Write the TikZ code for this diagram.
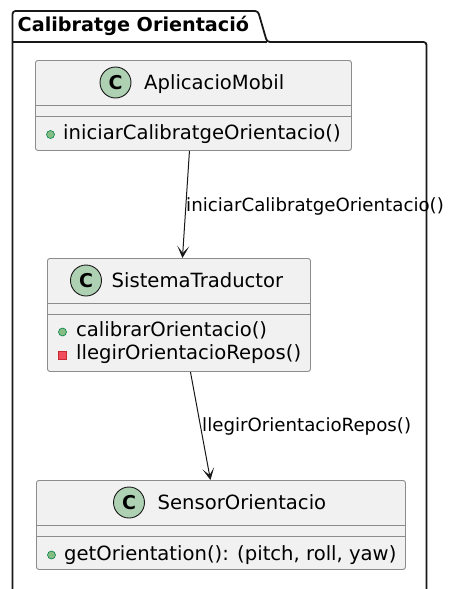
\documentclass[tikz,border=0pt]{standalone}
\usepackage{fontspec}
\setmainfont{DejaVu Sans}
\usetikzlibrary{arrows.meta,calc}

\definecolor{boxfill}{HTML}{F1F1F1}
\definecolor{boxline}{HTML}{8C8C8C}
\definecolor{spotfill}{HTML}{ADD1B2}
\definecolor{inkline}{HTML}{181818}
\definecolor{pubfill}{HTML}{84BE84}
\definecolor{publine}{HTML}{038048}
\definecolor{privfill}{HTML}{F24D5C}
\definecolor{privline}{HTML}{C82930}

\tikzset{
  classbox/.style={draw=boxline, fill=boxfill, line width=0.9pt, rounded corners=2.5pt,
                   anchor=north west, inner sep=0pt},
  divider/.style={draw=boxline, line width=0.9pt},
  spot/.style={circle, draw=inkline, fill=spotfill, line width=0.9pt, minimum size=31pt,
               inner sep=0pt, font=\fontsize{19}{20}\selectfont\bfseries},
  clsname/.style={anchor=base west, inner sep=0pt, font=\fontsize{19.6}{22}\selectfont, text=black},
  member/.style={anchor=base west, inner sep=0pt, font=\fontsize{19.6}{22}\selectfont, text=black},
  pubmark/.style={circle, draw=publine, fill=pubfill, line width=0.6pt, minimum size=8pt, inner sep=0pt},
  privmark/.style={rectangle, draw=privline, fill=privfill, line width=0.6pt, minimum size=8pt, inner sep=0pt},
  edgelabel/.style={anchor=base west, inner sep=0pt, font=\fontsize{18.2}{20}\selectfont, text=black},
  dep/.style={draw=inkline, line width=1pt, -{Stealth[length=12pt,width=12pt,inset=7pt]}},
  pkgline/.style={draw=inkline, line width=1.8pt, rounded corners=3pt},
  pkgtitle/.style={anchor=base west, inner sep=0pt, font=\fontsize{19.2}{22}\selectfont\bfseries, text=black}
}

\begin{document}
\begin{tikzpicture}[x=1pt, y=-1pt]
  \path[use as bounding box] (0,0) rectangle (448,589);

  % package frame with its tab
  \path[pkgline] (12.5,600) -- (12.5,11) -- (258,11) -- (267,42) -- (426.5,42) -- (426.5,600);
  \path[pkgline, rounded corners=0pt] (12.5,42) -- (267,42);
  \node[pkgtitle] (pkgname) at (17.5,31.5) {Calibratge Orientació};

  % class AplicacioMobil
  \node[classbox, minimum width=316pt, minimum height=90pt] (apm) at (35,60) {};
  \draw[divider] ($(apm.north west)+(0,45)$) -- ($(apm.north east)+(0,45)$);
  \draw[divider] ($(apm.north west)+(0,56)$) -- ($(apm.north east)+(0,56)$);
  \node[spot] (apmspot) at (115.5,82.5) {C};
  \node[clsname] (apmname) at (144,89.3) {AplicacioMobil};
  \node[pubmark] (apmm1mark) at (50.5,134.5) {};
  \node[member] (apmm1) at (63,139.5) {iniciarCalibratgeOrientacio()};

  % class SistemaTraductor
  \node[classbox, minimum width=263pt, minimum height=113pt] (st) at (47,258) {};
  \draw[divider] ($(st.north west)+(0,45)$) -- ($(st.north east)+(0,45)$);
  \draw[divider] ($(st.north west)+(0,56)$) -- ($(st.north east)+(0,56)$);
  \node[spot] (stspot) at (86,280.5) {C};
  \node[clsname] (stname) at (111.5,287.3) {SistemaTraductor};
  \node[pubmark] (stm1mark) at (62.5,332) {};
  \node[member] (stm1) at (76,336.7) {calibrarOrientacio()};
  \node[privmark] (stm2mark) at (62.5,355) {};
  \node[member] (stm2) at (76,359.3) {llegirOrientacioRepos()};

  % class SensorOrientacio
  \node[classbox, minimum width=369pt, minimum height=89pt] (so) at (36,480) {};
  \draw[divider] ($(so.north west)+(0,45)$) -- ($(so.north east)+(0,45)$);
  \draw[divider] ($(so.north west)+(0,56)$) -- ($(so.north east)+(0,56)$);
  \node[spot] (sospot) at (129,502.5) {C};
  \node[clsname] (soname) at (157.5,509) {SensorOrientacio};
  \node[pubmark] (som1mark) at (51.5,555) {};
  \node[member] (som1) at (64,560) {getOrientation(): (pitch, roll, yaw)};

  % dependencies
  \draw[dep] ([xshift=-4pt]apm.south) -- ([xshift=3.5pt]st.north);
  \node[edgelabel] (lbl1) at (186,211) {iniciarCalibratgeOrientacio()};
  \draw[dep] ([xshift=11.5pt]st.south) -- ([xshift=-10.5pt]so.north);
  \node[edgelabel] (lbl2) at (202,431.7) {llegirOrientacioRepos()};
\end{tikzpicture}
\end{document}
